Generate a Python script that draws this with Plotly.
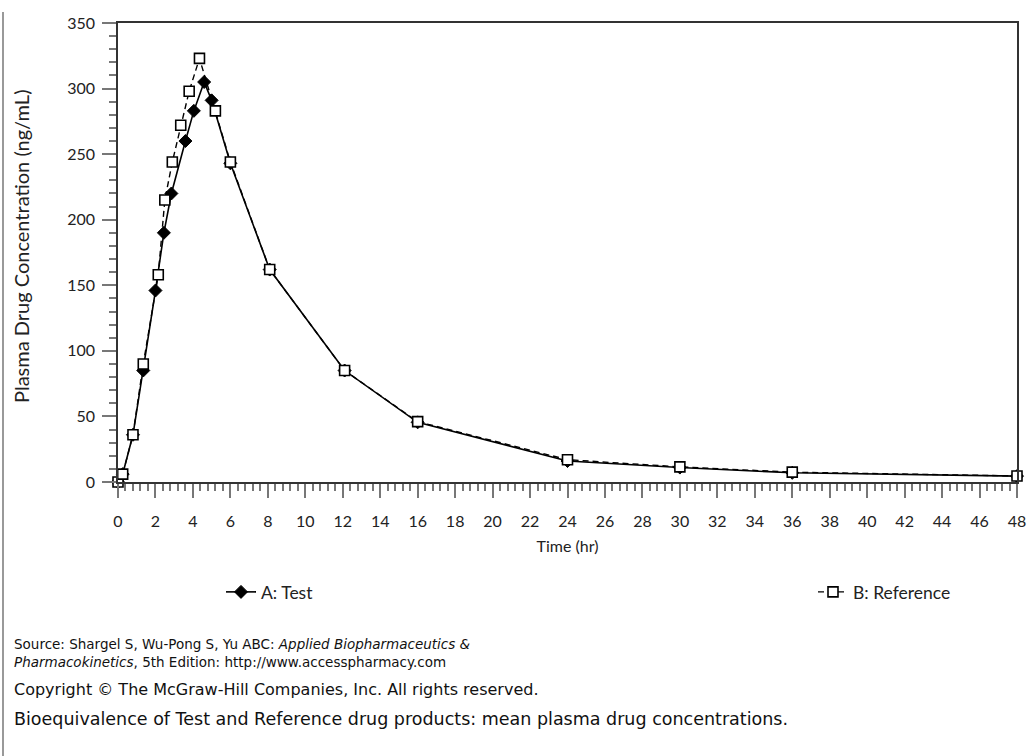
import plotly.graph_objects as go

# Data
test_time = [0, 0.25, 0.8, 1.35, 2.0, 2.45, 2.85, 3.6, 4.05, 4.6, 5.0, 6.0, 8.1, 12.1, 16.0, 24.0, 30.0, 36.0, 48.0]
test_conc = [0, 6, 36, 85, 146, 190, 220, 260, 283, 305, 291, 243, 162, 85, 45.5, 16, 11, 7, 4.5]

ref_time = [0, 0.25, 0.8, 1.35, 2.15, 2.5, 2.9, 3.35, 3.8, 4.35, 5.2, 6.0, 8.1, 12.1, 16.0, 24.0, 30.0, 36.0, 48.0]
ref_conc = [0, 6, 36, 90, 158, 215, 244, 272, 298, 323, 283, 244, 162, 85, 46, 17, 11.5, 7.5, 4.6]

x_ticks = list(range(0, 49, 2))
y_ticks = list(range(0, 351, 50))

names = ["A: Test", "B: Reference"]
x_title = "Time (hr)"
y_title = "Plasma Drug Concentration (ng/mL)"
source_line1 = "Source: Shargel S, Wu-Pong S, Yu ABC: <i>Applied Biopharmaceutics &amp;</i>"
source_line2 = "<i>Pharmacokinetics</i>, 5th Edition: http://www.accesspharmacy.com"
copyright_txt = "Copyright © The McGraw-Hill Companies, Inc. All rights reserved."
caption_txt = "Bioequivalence of Test and Reference drug products: mean plasma drug concentrations."

W, H = 1032, 756
L, R, T, B = 118, 15, 23, 274
pw, ph = W - L - R, H - T - B

def px(xp):
    return (xp - L) / pw

def py(yp):
    return (H - B - yp) / ph

CHART_FONT = "Lato"
NOTE_FONT = "DejaVu Sans"

fig = go.Figure()
fig.add_trace(go.Scatter(
    x=test_time, y=test_conc, name=names[0], mode="lines+markers",
    line=dict(color="black", width=1.6),
    marker=dict(symbol="diamond", size=10, color="black", line=dict(color="black", width=1)),
    legend="legend", cliponaxis=False,
))
fig.add_trace(go.Scatter(
    x=ref_time, y=ref_conc, name=names[1], mode="lines+markers",
    line=dict(color="black", width=1.4, dash="6px,4px"),
    marker=dict(symbol="square", size=10, color="white", line=dict(color="black", width=1.6)),
    legend="legend2", cliponaxis=False,
))

axis_common = dict(
    showgrid=False, zeroline=False, showline=True, linecolor="#333", linewidth=1.5,
    mirror=True, ticks="outside", tickcolor="#777", tickwidth=1.5, ticklen=14,
    tickfont=dict(family=CHART_FONT, size=16, color="#222"), automargin=False,
)

fig.update_xaxes(
    range=[0, 48], tickvals=x_ticks, ticktext=[str(v) for v in x_ticks],
    title=dict(text=x_title, font=dict(family=CHART_FONT, size=16, color="#222"), standoff=12),
    minor=dict(dtick=0.4, tick0=0, ticks="outside", ticklen=7, tickcolor="#777", tickwidth=1.5),
    ticklabelstandoff=10,
    **axis_common,
)
fig.update_yaxes(
    range=[0, 350], tickvals=y_ticks, ticktext=[str(v) for v in y_ticks],
    minor=dict(dtick=10, tick0=0, ticks="outside", ticklen=7, tickcolor="#777", tickwidth=1.5),
    ticklabelstandoff=4,
    **axis_common,
)

legend_common = dict(
    orientation="h", yanchor="middle", xanchor="left", bgcolor="rgba(0,0,0,0)",
    font=dict(family=CHART_FONT, size=17.5, color="#222"),
)

note = dict(family=NOTE_FONT, color="#111")
annotations = [
    dict(text=y_title, x=px(21), y=py(247), xanchor="center", yanchor="middle", textangle=-90,
         font=dict(family=CHART_FONT, size=20, color="#222")),
    dict(text=source_line1, x=px(12), y=py(644), xanchor="left", yanchor="middle", font=dict(size=13.5, **note)),
    dict(text=source_line2, x=px(12), y=py(662), xanchor="left", yanchor="middle", font=dict(size=13.5, **note)),
    dict(text=copyright_txt, x=px(12), y=py(690), xanchor="left", yanchor="middle", font=dict(size=16, **note)),
    dict(text=caption_txt, x=px(12), y=py(719), xanchor="left", yanchor="middle", font=dict(size=17.5, **note)),
]
for a in annotations:
    a.update(xref="paper", yref="paper", showarrow=False, align="left")

fig.update_layout(
    width=W, height=H, margin=dict(l=L, r=R, t=T, b=B, pad=0),
    paper_bgcolor="white", plot_bgcolor="white",
    showlegend=True,
    legend=dict(x=px(221), y=py(592), **legend_common),
    legend2=dict(x=px(813), y=py(592), **legend_common),
    annotations=annotations,
    shapes=[dict(type="line", xref="paper", yref="paper", x0=px(3), x1=px(3), y0=py(12), y1=py(756),
                 line=dict(color="#999", width=2))],
)

fig.write_html("out.html")
